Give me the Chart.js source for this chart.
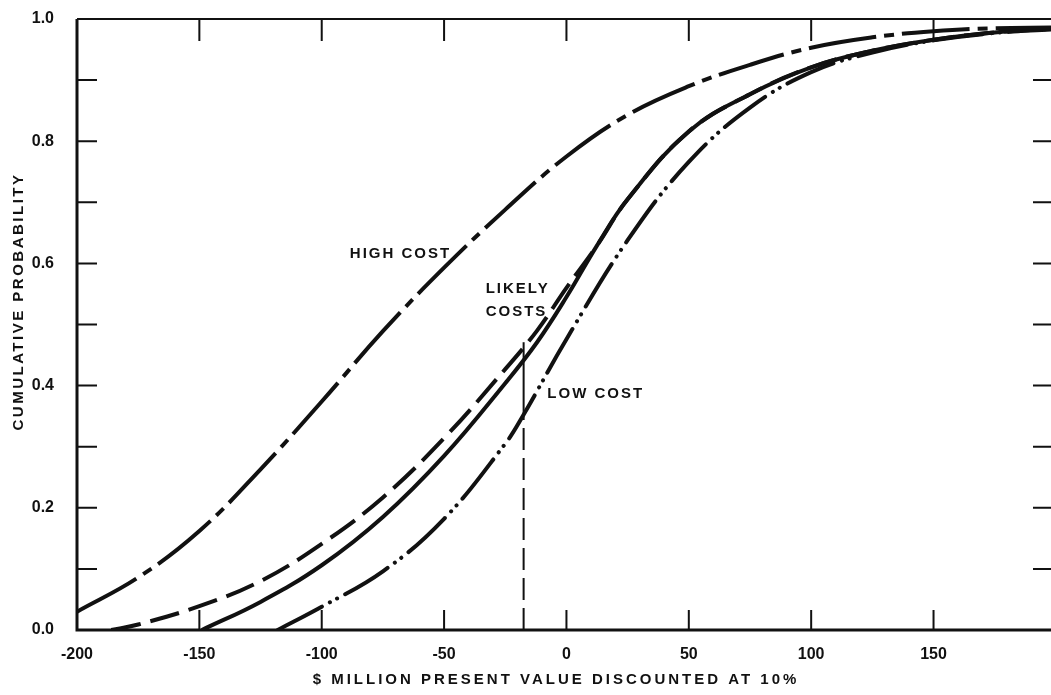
<!DOCTYPE html>
<html>
<head>
<meta charset="utf-8">
<style>
  body { margin: 0; background: #fff; }
  #wrap { width: 1051px; height: 695px; }
</style>
</head>
<body>
<div id="wrap"><canvas id="cdfChart" width="1051" height="695"></canvas></div>
<script src="https://cdn.jsdelivr.net/npm/chart.js"></script>
<script>
// values ($ million, cumulative probability)
const highX = [-200, -175, -150, -125, -100, -75, -50, -25, 0, 25, 50, 75, 100, 125, 150, 175, 198];
const highY = [0.03, 0.086, 0.162, 0.263, 0.374, 0.489, 0.593, 0.688, 0.775, 0.843, 0.89, 0.925, 0.953, 0.97, 0.98, 0.985, 0.986];

const likelyX = [-186, -175, -150, -125, -100, -75, -50, -25, -12, 0, 12.6, 25, 50, 75, 100, 125, 150, 175, 198];
const likelyY = [0, 0.009, 0.039, 0.08, 0.141, 0.217, 0.314, 0.427, 0.49, 0.56, 0.63, 0.705, 0.816, 0.877, 0.921, 0.948, 0.966, 0.978, 0.984];

const solidX = [-149, -125, -100, -75, -50, -25, -12, 0, 12.6, 25, 50, 75, 100, 125, 150, 175, 198];
const solidY = [0, 0.046, 0.106, 0.185, 0.285, 0.404, 0.471, 0.545, 0.63, 0.705, 0.816, 0.877, 0.921, 0.948, 0.966, 0.978, 0.984];

const lowX = [-118, -100, -75, -50, -25, -18, 0, 25, 50, 75, 100, 125, 150, 175, 198];
const lowY = [0, 0.038, 0.096, 0.182, 0.305, 0.349, 0.476, 0.638, 0.766, 0.855, 0.913, 0.945, 0.965, 0.977, 0.983];

// vertical marker at the expected value
const markerX = [-17.5, -17.5];
const markerLowY = [0, 0.35];
const markerHighY = [0.35, 0.471];

const xTickLabels = [-200, -150, -100, -50, 0, 50, 100, 150];
const yTickLabels = [0, 0.2, 0.4, 0.6, 0.8, 1.0];
const xTickMarks = [-150, -100, -50, 0, 50, 100, 150];
const yTickMarks = [0.1, 0.2, 0.3, 0.4, 0.5, 0.6, 0.7, 0.8, 0.9];

const INK = '#111';

function pairs(xs, ys) {
  return xs.map((x, i) => ({ x: x, y: ys[i] }));
}

function curve(xs, ys, dash, cap) {
  return {
    data: pairs(xs, ys),
    borderColor: INK,
    borderWidth: 4,
    borderDash: dash,
    borderCapStyle: cap || 'butt',
    pointRadius: 0,
    fill: false,
    tension: 0.4
  };
}

function patchTitle(scale, spacing, dx, dy) {
  if (scale._spaced) return;
  const orig = scale.drawTitle;
  scale.drawTitle = function () {
    const ctx = this.ctx;
    ctx.save();
    ctx.letterSpacing = spacing;
    ctx.translate(dx, dy);
    orig.call(this);
    ctx.restore();
  };
  scale._spaced = true;
}

const framePlugin = {
  id: 'frame',
  afterLayout(chart) {
    patchTitle(chart.scales.x, '3px', -8, 0);
    patchTitle(chart.scales.y, '2.5px', 0, -23);
  },
  beforeDatasetsDraw(chart) {
    const { ctx, chartArea: a, scales: { x, y } } = chart;
    ctx.save();
    ctx.strokeStyle = INK;
    ctx.lineWidth = 3;
    ctx.beginPath();
    ctx.moveTo(a.left, a.top);
    ctx.lineTo(a.left, a.bottom);
    ctx.lineTo(a.right, a.bottom);
    ctx.stroke();
    ctx.lineWidth = 2;
    ctx.beginPath();
    ctx.moveTo(a.left, a.top);
    ctx.lineTo(a.right, a.top);
    yTickMarks.forEach(v => {
      const py = y.getPixelForValue(v);
      ctx.moveTo(a.left, py); ctx.lineTo(a.left + 20, py);
      ctx.moveTo(a.right, py); ctx.lineTo(a.right - 18, py);
    });
    xTickMarks.forEach(v => {
      const px = x.getPixelForValue(v);
      ctx.moveTo(px, a.top); ctx.lineTo(px, a.top + 22);
      ctx.moveTo(px, a.bottom); ctx.lineTo(px, a.bottom - 20);
    });
    ctx.stroke();
    ctx.restore();
  }
};

const notes = [
  { text: 'HIGH COST', x: -88.5, y: 0.615 },
  { text: 'LIKELY', x: -33, y: 0.558 },
  { text: 'COSTS', x: -33, y: 0.52 },
  { text: 'LOW COST', x: -7.8, y: 0.386 }
];

const notesPlugin = {
  id: 'notes',
  afterDatasetsDraw(chart) {
    const { ctx, scales: { x, y } } = chart;
    ctx.save();
    ctx.fillStyle = INK;
    ctx.font = 'bold 15px "Liberation Sans", Arial, sans-serif';
    ctx.letterSpacing = '2px';
    ctx.textAlign = 'left';
    ctx.textBaseline = 'middle';
    notes.forEach(n => ctx.fillText(n.text, x.getPixelForValue(n.x), y.getPixelForValue(n.y)));
    ctx.restore();
  }
};

const tickFont = { family: '"Liberation Sans", Arial, sans-serif', size: 16, weight: 'bold' };

new Chart(document.getElementById('cdfChart'), {
  type: 'line',
  data: {
    datasets: [
      curve(highX, highY, [68, 8, 10, 8]),
      curve(likelyX, likelyY, [30, 10]),
      curve(solidX, solidY, []),
      curve(lowX, lowY, [50, 9, 0.1, 8, 0.1, 9], 'round'),
      { data: pairs(markerX, markerLowY), borderColor: INK, borderWidth: 2, borderDash: [22, 8], pointRadius: 0 },
      { data: pairs(markerX, markerHighY), borderColor: INK, borderWidth: 2, pointRadius: 0 }
    ]
  },
  options: {
    responsive: false,
    animation: false,
    layout: { padding: { top: 19, left: 0, right: 0, bottom: 0 } },
    plugins: { legend: { display: false }, tooltip: { enabled: false } },
    scales: {
      x: {
        type: 'linear',
        min: -200,
        max: 198,
        grid: { display: false },
        border: { display: false },
        ticks: { padding: 7, color: INK, font: tickFont, maxRotation: 0 },
        afterBuildTicks(s) { s.ticks = xTickLabels.map(v => ({ value: v })); },
        title: {
          display: true,
          text: '$ MILLION PRESENT VALUE DISCOUNTED AT 10%',
          color: INK,
          font: { family: '"Liberation Sans", Arial, sans-serif', size: 15, weight: 'bold' },
          padding: { top: 0, bottom: 6 }
        },
        afterFit(s) { s.height = 65; s.paddingLeft = 0; s.paddingRight = 0; }
      },
      y: {
        min: 0,
        max: 1,
        grid: { display: false },
        border: { display: false },
        ticks: { padding: 15, color: INK, font: tickFont, callback: v => v.toFixed(1) },
        afterBuildTicks(s) { s.ticks = yTickLabels.map(v => ({ value: v })); },
        title: {
          display: true,
          text: 'CUMULATIVE PROBABILITY',
          color: INK,
          font: { family: '"Liberation Sans", Arial, sans-serif', size: 15, weight: 'bold' },
          padding: { top: 10, bottom: 0 }
        },
        afterFit(s) { s.width = 77; s.paddingTop = 0; s.paddingBottom = 0; }
      }
    }
  },
  plugins: [framePlugin, notesPlugin]
});
</script>
</body>
</html>
